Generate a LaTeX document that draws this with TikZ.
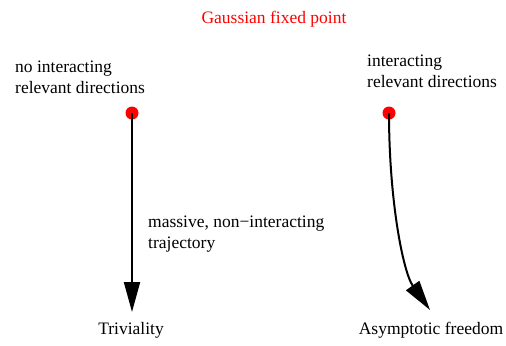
\documentclass[tikz,border=0pt]{standalone}
\usepackage{fontspec}
\setmainfont{Liberation Serif}
\usetikzlibrary{arrows.meta,positioning}

\begin{document}
\begin{tikzpicture}[x=1bp, y=-1bp, >={Triangle[length=30bp, width=16bp]},
    fixpt/.style={circle, fill=red, inner sep=0pt, minimum size=13bp},
    txt/.style={inner sep=0pt, font=\fontsize{17.5bp}{20.5bp}\selectfont, align=left},
    flow/.style={->, line width=2bp, black}]

    \useasboundingbox (0,0) rectangle (506,345);

    % Title
    \node[txt, text=red, anchor=base] (title) at (274,23) {Gaussian fixed point};

    % Fixed points
    \node[fixpt] (ldot) at (132,113) {};
    \node[fixpt] (rdot) at (389,113) {};

    % Descriptions
    \node[txt, anchor=base west] (nodir) at (15,93) {no interacting\\relevant directions};
    \node[txt, anchor=base west] (dir) at (367,87) {interacting\\relevant directions};

    % End points
    \coordinate (ltip) at (132,312);
    \coordinate (rtip) at (430,310);
    \node[txt, anchor=base] (triv) at (131,334) {Triviality};
    \node[txt, anchor=base] (asym) at (431,334) {Asymptotic freedom};

    % Trajectories
    \draw[flow] (ldot.center) -- (ltip);
    \draw[flow] (rdot.center) .. controls (389,200) and (403,272) .. (rtip);
    \node[txt, anchor=base west] (traj) at (148,248) {massive, non−interacting\\trajectory};

\end{tikzpicture}
\end{document}
